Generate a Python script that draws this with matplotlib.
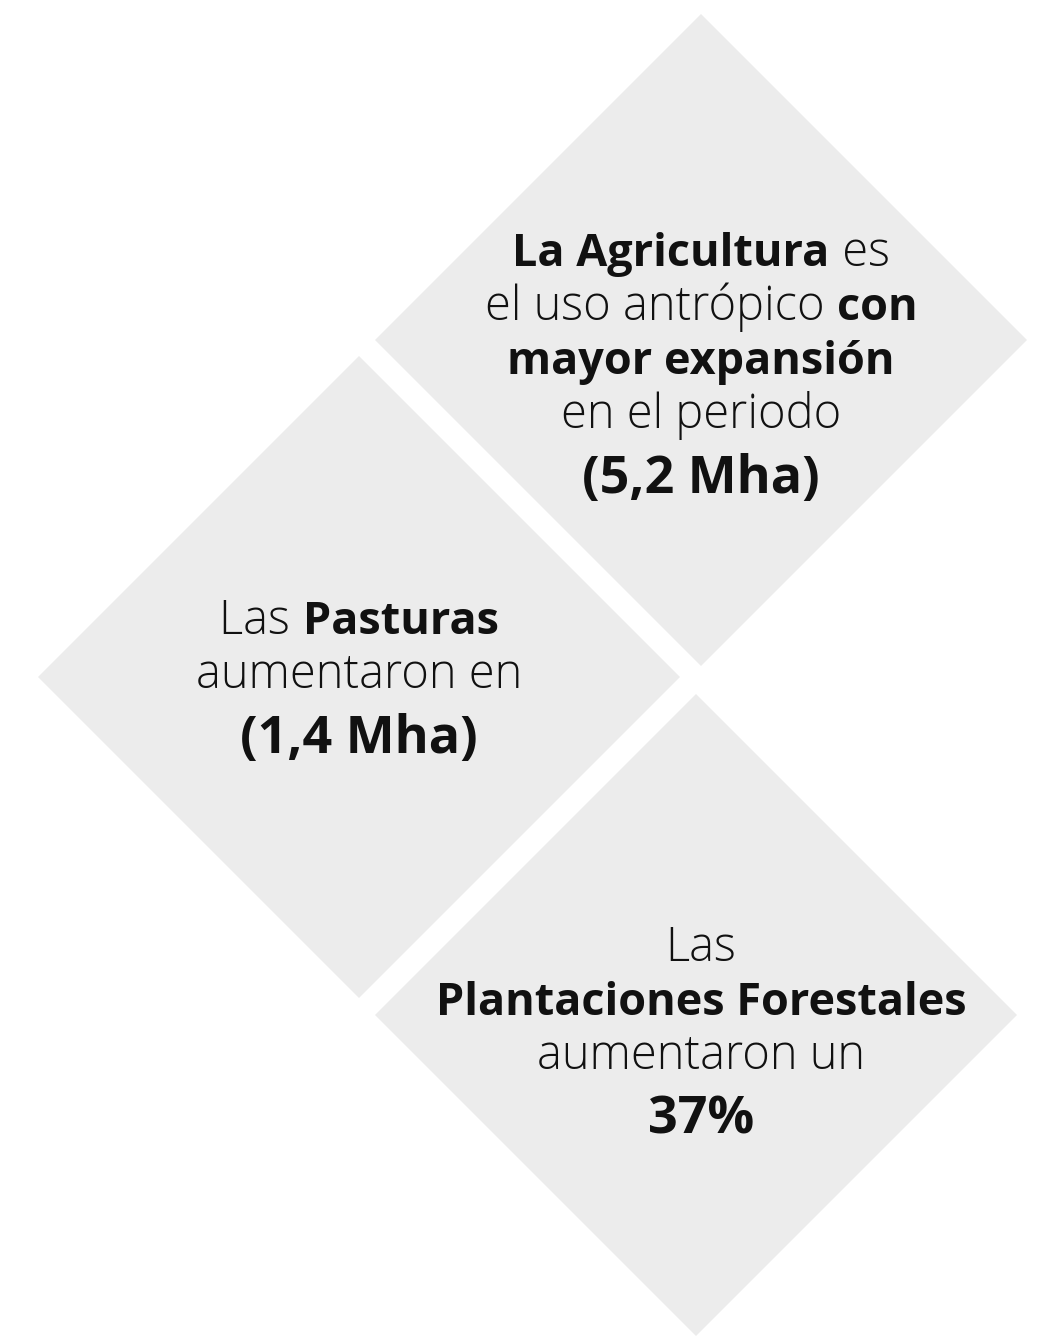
import matplotlib
matplotlib.use("Agg")
import matplotlib.pyplot as plt
from matplotlib.patches import Polygon

# ---- content ----
agri_lines = [
    [("La Agricultura", "bold"), (" es", "light")],
    [("el uso antrópico ", "light"), ("con", "bold")],
    [("mayor expansión", "bold")],
    [("en el periodo", "light")],
]
agri_value = "(5,2 Mha)"

past_lines = [
    [("Las ", "light"), ("Pasturas", "bold")],
    [("aumentaron en", "light")],
]
past_value = "(1,4 Mha)"

plant_lines = [
    [("Las", "light")],
    [("Plantaciones Forestales", "bold")],
    [("aumentaron un", "light")],
]
plant_value = "37%"

# ---- layout (pixels) ----
W, H = 1050, 1339
diamonds = [
    # centre x, centre y, half diagonal
    (701, 340, 326),
    (359, 677, 321),
    (696, 1015, 321),
]
fill = "#ececec"
family = ["Open Sans", "DejaVu Sans"]
size_px = {"light": 47, "bold": 45}
value_px = 52
line_gap = 54

fig = plt.figure(figsize=(W / 100, H / 100), dpi=100)
ax = fig.add_axes([0, 0, 1, 1])
ax.set_xlim(0, W)
ax.set_ylim(H, 0)
ax.axis("off")

for cx, cy, r in diamonds:
    ax.add_patch(Polygon([(cx, cy - r), (cx + r, cy), (cx, cy + r), (cx - r, cy)],
                         closed=True, facecolor=fill, edgecolor="none"))

renderer = fig.canvas.get_renderer()


def text_width(s, weight, px):
    t = ax.text(0, 0, s, fontsize=px * 0.72, fontweight=weight, family=family)
    bb = t.get_window_extent(renderer)
    t.remove()
    return bb.width


def mixed_line(x, y, segs, px=None):
    sizes = [px or size_px[w] for s, w in segs]
    widths = [text_width(s, w, p) for (s, w), p in zip(segs, sizes)]
    left = x - sum(widths) / 2
    for (s, w), p, wd in zip(segs, sizes, widths):
        ax.text(left, y, s, fontsize=p * 0.72, fontweight=w, family=family,
                ha="left", va="baseline", color="#111111")
        left += wd


def block(x, y0, lines, value):
    y = y0
    for segs in lines:
        mixed_line(x, y, segs)
        y += line_gap
    mixed_line(x, y + 11, [(value, "bold")], px=value_px)


block(701, 266, agri_lines, agri_value)
block(359, 634, past_lines, past_value)
block(701, 961, plant_lines, plant_value)

fig.savefig("out.png", dpi=100, facecolor="white")
